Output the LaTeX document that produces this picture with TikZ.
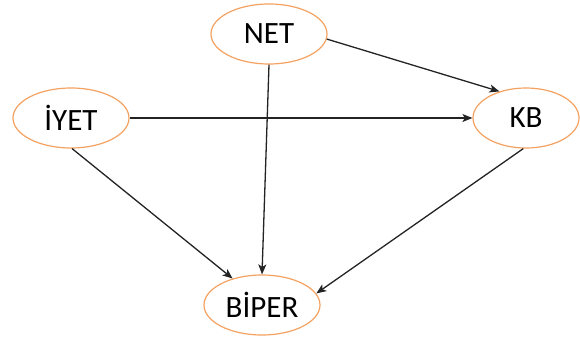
\documentclass[tikz,border=0pt]{standalone}
\usepackage{fontspec}
\setmainfont{Carlito}
\usetikzlibrary{shapes.geometric,arrows.meta}
\definecolor{ell}{RGB}{244,162,97}
\definecolor{arr}{RGB}{35,35,35}
\begin{document}
\begin{tikzpicture}[x=1pt,y=-1pt,
  ent/.style={ellipse,draw=ell,line width=1.2pt,fill=white,inner sep=0pt,
    minimum width=116pt,minimum height=60pt,font=\fontsize{31}{34}\selectfont},
  conn/.style={draw=arr,line width=1.3pt,-{Stealth[length=10pt,width=8pt,inset=2.5pt]}}]
\useasboundingbox (0,0) rectangle (580,340);
\node[ent] (net) at (269,34) {NET};
\node[ent] (iyet) at (71,118) {İYET};
\node[ent,minimum width=106pt] (kb) at (526,118) {KB};
\node[ent] (biper) at (262,305) {BİPER};
\draw[conn] (net.-5) -- (kb.135);
\draw[conn] (iyet.east) -- (kb.west);
\draw[conn] (net.south) -- (biper.north);
\draw[conn] (iyet.-88) -- (biper.138);
\draw[conn] (kb.-95) -- (biper.12);
\end{tikzpicture}
\end{document}
